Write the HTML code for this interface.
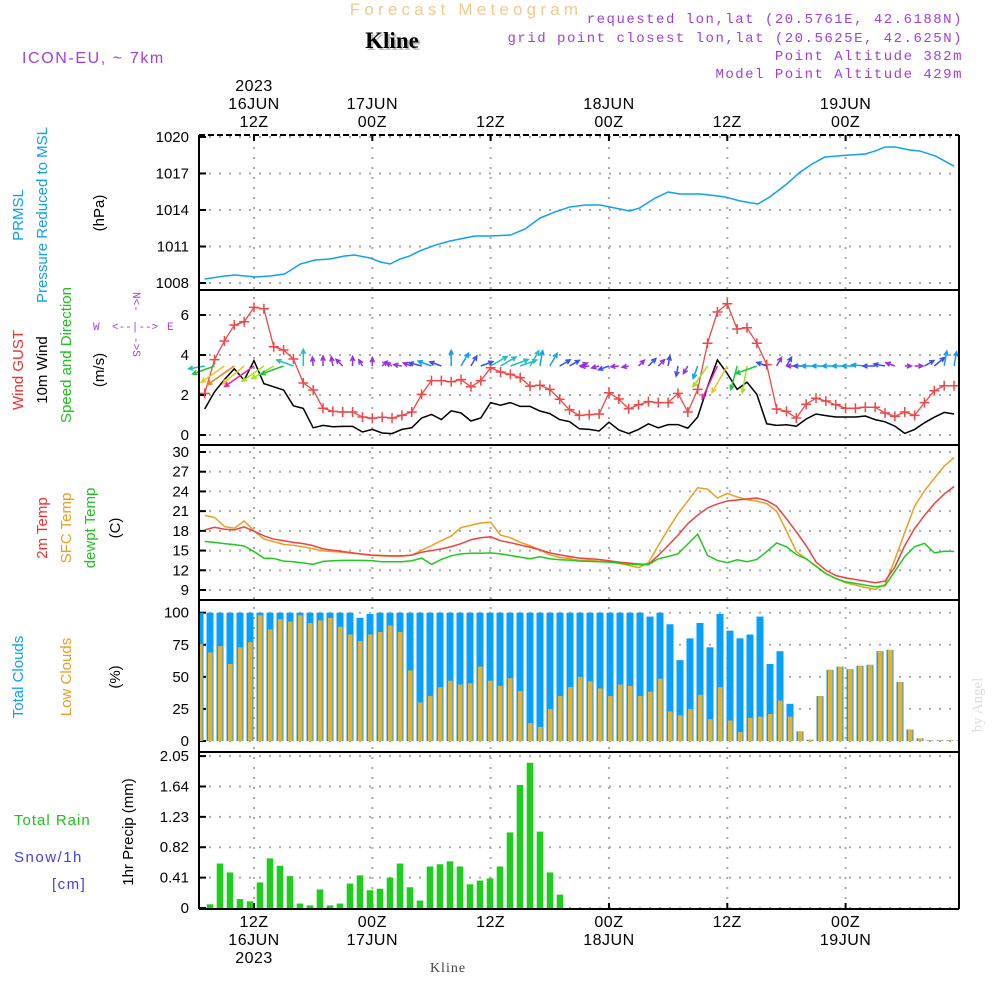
<!DOCTYPE html>
<html><head><meta charset="utf-8">
<style>
html,body{margin:0;padding:0;background:#fff;}
svg{display:block;font-family:"Liberation Sans",sans-serif;}
</style></head>
<body>
<svg id="chart" width="1000" height="1000" viewBox="0 0 1000 1000" xmlns="http://www.w3.org/2000/svg">
<g id="texts">
<text x="466" y="15" text-anchor="middle" font-size="17" letter-spacing="4.2" fill="#f2c98e">Forecast Meteogram</text>
<text x="392" y="48" text-anchor="middle" font-size="23" font-weight="bold" font-family="Liberation Serif,serif" fill="#bbb" transform="translate(2,2)">Kline</text>
<text x="392" y="48" text-anchor="middle" font-size="23" font-weight="bold" font-family="Liberation Serif,serif" fill="#000">Kline</text>
<text x="22" y="63" font-size="16" letter-spacing="1.6" fill="#a040e0">ICON-EU, ~ 7km</text>
<g font-family="Liberation Mono,monospace" font-size="14" fill="#a040e0" text-anchor="end" letter-spacing="1.5">
<text x="963" y="23">requested lon,lat (20.5761E, 42.6188N)</text>
<text x="963" y="42">grid point closest lon,lat (20.5625E, 42.625N)</text>
<text x="963" y="60">Point Altitude 382m</text>
<text x="963" y="78">Model Point Altitude 429m</text>
</g>
<text x="448" y="972" text-anchor="middle" font-size="14" font-family="Liberation Serif,serif" fill="#444" letter-spacing="1">Kline</text>
<text transform="translate(982,705) rotate(-90)" text-anchor="middle" font-size="15" font-family="Liberation Serif,serif" fill="#ddd">by Angel</text>
</g>
<g id="ylabels" font-size="15" text-anchor="middle">
<text transform="translate(23,215) rotate(-90)" fill="#10a0f0">PRMSL</text>
<text transform="translate(47,215) rotate(-90)" fill="#10a0f0">Pressure Reduced to MSL</text>
<text transform="translate(104,213) rotate(-90)" fill="#000">(hPa)</text>
<text transform="translate(23,370) rotate(-90)" fill="#f03030">Wind GUST</text>
<text transform="translate(47,370) rotate(-90)" fill="#000">10m Wind</text>
<text transform="translate(71,355) rotate(-90)" fill="#20c020">Speed and Direction</text>
<text transform="translate(104,370) rotate(-90)" fill="#000">(m/s)</text>
<g font-size="11" fill="#a040e0" font-family="Liberation Mono,monospace" text-anchor="start">
<text x="93" y="330">W</text><text x="112" y="330">&lt;--|--&gt;</text><text x="167" y="330">E</text>
<text transform="translate(133,292) rotate(90)">N&lt;-</text>
<text transform="translate(133,337) rotate(90)">-&gt;S</text>
</g>
<text transform="translate(47,528) rotate(-90)" fill="#f03030">2m Temp</text>
<text transform="translate(71,528) rotate(-90)" fill="#e8a020">SFC Temp</text>
<text transform="translate(95,528) rotate(-90)" fill="#20c020">dewpt Temp</text>
<text transform="translate(120,528) rotate(-90)" fill="#000">(C)</text>
<text transform="translate(23,677) rotate(-90)" fill="#10a0f0">Total Clouds</text>
<text transform="translate(71,677) rotate(-90)" fill="#e8a020">Low Clouds</text>
<text transform="translate(120,677) rotate(-90)" fill="#000">(%)</text>
<text x="14" y="825" text-anchor="start" fill="#20c020" letter-spacing="1">Total  Rain</text>
<text x="14" y="862" text-anchor="start" fill="#4040f0" letter-spacing="1.5">Snow/1h</text>
<text x="52" y="889" text-anchor="start" fill="#4040f0" letter-spacing="1.5">[cm]</text>
<text transform="translate(133,832) rotate(-90)" fill="#000">1hr Precip (mm)</text>
</g>
<g id="plot"></g>
</svg>
<script>
// ---------- DATA ----------
const lineHours = [7,8,9,10,11,12,13,14,15,16,17,18,19,20,21,22,23,24,25,26,27,28,29,30,31,32,33,34,35,36,37,38,39,40,41,42,43,44,45,46,47,48,49,50,51,52,53,54,55,56,57,58,59,60,61,62,63,64,65,66,67,68,69,70,71,72,73,74,75,76,77,78,79,80,81,82,83];
const pressHours = [7,9.06,10.07,12.1,13.6,15.1,16.7,18.2,19.7,21.2,22.2,23.8,24.8,25.8,26.8,27.8,28.8,30.4,31.9,33.4,34.4,35.9,38,39.5,41,42.5,44,45.6,47.1,48.6,50.1,51.1,52.7,54,55.2,57.2,58.2,59.8,61.3,63.1,64.3,65.9,67.4,68.6,69.9,72.4,74,75,76,77,78.5,79.5,81.1,83];
const pressure = [1008.33,1008.58,1008.66,1008.49,1008.58,1008.74,1009.56,1009.89,1009.97,1010.22,1010.30,1010.05,1009.73,1009.56,1009.97,1010.22,1010.63,1011.12,1011.45,1011.70,1011.86,1011.86,1011.94,1012.44,1013.34,1013.83,1014.24,1014.41,1014.41,1014.16,1013.92,1014.16,1014.98,1015.48,1015.31,1015.31,1015.23,1015.07,1014.74,1014.49,1015.07,1016.05,1017.12,1017.78,1018.35,1018.52,1018.60,1018.85,1019.18,1019.18,1018.93,1018.85,1018.44,1017.6];
const gust = [2.08,3.77,4.7,5.5,5.66,6.38,6.31,4.41,4.25,3.8,2.6,2.25,1.34,1.18,1.15,1.15,0.9,0.84,0.89,0.85,0.98,1.15,2.03,2.72,2.72,2.66,2.77,2.41,2.72,3.36,3.15,3.03,2.87,2.44,2.49,2.28,1.79,1.26,0.98,
1.02,1.05,2.11,1.8,1.31,1.51,1.67,1.62,1.62,2.08,1.15,2.28,4.59,6.15,6.56,5.3,5.36,4.59,3.52,1.3,1.18,0.85,1.54,1.84,1.7,1.51,1.34,1.34,1.39,1.39,1.1,0.93,1.15,0.98,1.62,2.21,2.46,2.46];
const wind10m = [1.3,2.16,2.77,3.31,2.74,3.72,2.57,2.41,2.25,1.46,1.33,0.36,0.48,0.41,0.43,0.43,0.15,0.28,0.1,0.07,0.28,0.36,0.85,1.03,0.77,1.21,1.1,0.7,0.85,1.62,1.49,1.62,1.43,1.43,1.2,1.07,0.77,0.67,0.31,
0.28,0.2,0.64,0.25,0.07,0.28,0.56,0.36,0.52,0.52,0.34,0.9,2.41,3.75,3.07,2.28,2.64,2.03,0.56,0.48,0.51,0.44,0.8,1.05,0.97,0.9,0.9,0.9,0.95,0.77,0.66,0.44,0.08,0.28,0.61,0.89,1.13,1.05];
const windDir = [190,200,215,215,220,215,215,210,200,160,90,95,90,100,135,90,120,90,45,150,170,160,165,160,160,90,60,60,20,30,30,20,20,60,80,60,30,30,20,
185,195,200,185,190,45,45,45,80,260,240,250,235,245,240,255,260,200,160,60,60,180,180,180,180,180,180,180,175,180,170,160,0,0,30,40,80,80];
const t2m = [18.15,18.55,18.25,18.15,18.6,17.95,17.25,16.75,16.5,16.25,16.05,15.75,15.25,15.05,14.85,14.65,14.45,14.3,14.25,14.2,14.2,14.3,14.75,15.0,15.25,15.6,16.05,16.65,16.95,17.1,16.5,16.2,15.85,15.5,15.1,14.65,14.35,14.1,13.85,
13.75,13.65,13.45,13.25,13.1,12.95,12.9,14.25,15.75,17.35,19.1,20.4,21.5,22.1,22.55,22.7,22.85,23.0,22.6,21.75,19.85,17.85,15.75,13.25,12.0,11.2,10.85,10.6,10.35,10.1,10.35,12.5,15.75,18.35,20.35,22.15,23.6,24.75];
const tsfc = [20.35,20.05,18.65,18.4,19.5,18.0,16.75,16.35,15.95,15.8,15.55,15.25,14.95,14.85,14.75,14.6,14.45,14.25,14.2,14.15,14.15,14.3,15.05,15.75,16.5,17.2,18.5,18.85,19.2,19.3,17.35,16.95,16.25,15.75,15.1,14.35,13.95,13.8,13.5,
13.5,13.4,13.3,13.05,12.75,12.4,13.15,15.75,18.25,20.6,22.55,24.55,24.35,23.0,23.7,23.15,22.75,22.5,22.15,21.0,18.0,14.85,13.75,12.65,11.5,10.75,10.1,9.75,9.4,9.1,9.85,13.65,17.75,21.75,24.1,26.0,27.85,29.15];
const tdew = [16.4,16.25,16.05,15.9,15.7,14.85,13.85,13.8,13.4,13.3,13.1,12.9,13.35,13.45,13.5,13.5,13.5,13.45,13.3,13.3,13.3,13.45,13.85,12.9,13.65,14.2,14.5,14.6,14.6,14.65,14.5,14.25,14.0,13.75,14.05,13.75,13.6,13.55,13.4,
13.35,13.3,13.25,13.1,12.95,12.85,12.85,13.75,14.1,14.5,16.0,17.5,14.25,13.5,13.15,13.6,13.3,13.65,14.85,16.15,15.6,14.4,13.75,12.6,11.5,10.75,10.25,10.0,9.75,9.5,9.65,11.85,14.1,15.6,16.1,14.65,14.9,14.85];
const totalClouds = [100,100,100,100,100,100,100,100,100,100,100,100,100,100,100,100,96,99,100,100,100,100,100,100,100,100,100,100,100,100,100,100,100,100,100,100,100,100,100,
100,100,100,100,100,100,97,100,91,63,80,92,73,99,86,80,83,97,60,70,29,7.5,1,35,55.5,58,56,58.6,59.4,70,71,46,9,2,0.5,0.5,0.5,0.5];
const lowClouds = [75.7,69,74,60,73,77,98,87,95,93,98,92,94,96,89,83,78,83,85,90,85,55,30,35,42,47,44,45,58,47,43,49,39,14,11,25,35,42,50,
46.5,41,35,44,43,35,38.5,48.6,23,20,25,36,17,42,16,7,18,19,21,31.5,19,7.5,1,35,55.5,58,56,58.6,59.4,70,71,46,9,2,0.5,0.5,0.5,0.5];
const precip = [0,0.05,0.6,0.48,0.12,0.09,0.345,0.67,0.57,0.43,0.06,0.035,0.25,0.035,0.06,0.33,0.44,0.24,0.26,0.41,0.6,0.28,0.1,0.56,0.59,0.63,0.56,0.32,0.37,0.4,0.56,1.02,1.66,1.96,1.03,0.48,0.18,
0,0,0,0,0,0,0,0,0,0,0,0,0,0,0,0,0,0,0,0,0,0,0,0,0,0,0,0,0,0,0,0,0,0,0,0,0,0,0,0];
const pressTicks = [1008,1011,1014,1017,1020];
const windTicks = [0,2,4,6];
const tempTicks = [9,12,15,18,21,24,27,30];
const cloudTicks = [0,25,50,75,100];
const precipTicks = ["0","0.41","0.82","1.23","1.64","2.05"];
const timeTicks = [12,24,36,48,60,72];
const topDayLabels = ["16JUN","17JUN","","18JUN","","19JUN"];
const topHourLabels = ["12Z","00Z","12Z","00Z","12Z","00Z"];

// ---------- SCALES ----------
const L=199,R=959;
const x = h => 254 + (h-12)*9.86;
const xb = i => 200 + i*10;            // hourly bar band scale
const yP = v => 283 - (v-1008)*12.17;
const yW = v => 435 - v*20;
const yT = v => 452 + (30-v)*6.571;
const yC = v => 741 - v*1.283;
const yR = v => 908 - v*74.1;
const panels = [[135,290],[290,445],[445,600],[600,752],[752,909]];

const NS="http://www.w3.org/2000/svg";
const plot=document.getElementById('plot');
function mk(tag,attrs,parent){const e=document.createElementNS(NS,tag);for(const k in attrs)e.setAttribute(k,attrs[k]);(parent||plot).appendChild(e);return e;}

const defs=mk('defs',{});
panels.forEach((p,i)=>{const c=mk('clipPath',{id:'cp'+i},defs);mk('rect',{x:L,y:p[0],width:R-L,height:p[1]-p[0]},c);});

const grid=mk('g',{stroke:'#aaa','stroke-width':2,'stroke-dasharray':'2,8',fill:'none'});


timeTicks.forEach(h=>{mk('line',{x1:x(h),x2:x(h),y1:137,y2:907},grid);});
function hgrid(ticks,fy){ticks.forEach(t=>{const yy=fy(+t);mk('line',{x1:L,x2:R,y1:yy,y2:yy},grid);});}
hgrid(pressTicks,yP);hgrid(windTicks,yW);hgrid(tempTicks,yT);hgrid(cloudTicks,yC);hgrid(precipTicks,yR);

function ylabels(ticks,fy,name){
  const g=mk('g',{'font-size':15,'text-anchor':'end',fill:'#000'});
  
  
  ticks.forEach(t=>{const yy=fy(+t);const tx=mk('text',{x:189,y:yy+5},g);tx.textContent=t;mk('line',{x1:L,x2:L+7,y1:yy,y2:yy,stroke:'#000','stroke-width':2},g);});
}
ylabels(pressTicks,yP,'pressure-axis');ylabels(windTicks,yW,'wind-axis');ylabels(tempTicks,yT,'temp-axis');ylabels(cloudTicks,yC,'cloud-axis');ylabels(precipTicks,yR,'precip-axis');

const tl=mk('g',{'font-size':16,'text-anchor':'middle',fill:'#000','letter-spacing':'0.5'});


timeTicks.forEach((h,i)=>{
  const xx=x(h);
  let t=mk('text',{x:xx,y:127},tl);t.textContent=topHourLabels[i];
  if(topDayLabels[i]){t=mk('text',{x:xx,y:109},tl);t.textContent=topDayLabels[i];t=mk('text',{x:xx,y:945},tl);t.textContent=topDayLabels[i];}
  t=mk('text',{x:xx,y:927},tl);t.textContent=topHourLabels[i];
  mk('line',{x1:xx,x2:xx,y1:135,y2:141,stroke:'#000','stroke-width':2},tl);
  mk('line',{x1:xx,x2:xx,y1:903,y2:910,stroke:'#000','stroke-width':2},tl);
});
let yr=mk('text',{x:x(12),y:91},tl);yr.textContent='2023';
yr=mk('text',{x:x(12),y:963},tl);yr.textContent='2023';

const pl=mk('polyline',{points:pressHours.map((h,i)=>x(h)+','+yP(pressure[i])).join(' '),fill:'none',stroke:'#10a0f0','stroke-width':1.5,'clip-path':'url(#cp0)'});



const wl=mk('polyline',{points:lineHours.map((h,i)=>x(h)+','+yW(wind10m[i])).join(' '),fill:'none',stroke:'#000','stroke-width':1.5,'clip-path':'url(#cp1)'});


const gl=mk('polyline',{points:lineHours.map((h,i)=>x(h)+','+yW(gust[i])).join(' '),fill:'none',stroke:'#f04848','stroke-width':1.3,'clip-path':'url(#cp1)'});


const gm=mk('g',{stroke:'#f04848','stroke-width':1.5});


lineHours.forEach((h,i)=>{const xx=x(h),yy=yW(gust[i]);mk('path',{d:`M${xx-5},${yy}H${xx+5}M${xx},${yy-5}V${yy+5}`},gm);});
function wcol(s){return s<0.5?'#9a30e0':s<0.9?'#3a50f0':s<1.3?'#10a0f0':s<1.8?'#20c0c0':s<2.3?'#20c040':s<2.7?'#a0e020':s<3.2?'#e8c820':s<3.5?'#f08020':'#f020a0';}
const wa=mk('g',{'stroke-width':1.5,fill:'none'});


lineHours.forEach((h,i)=>{
  const s=wind10m[i],a=windDir[i]*Math.PI/180,len=6+8*s;
  const x0=x(h),y0=yW(3.45),x1=x0+len*Math.cos(a),y1=y0-len*Math.sin(a);
  const hl=5,b1=a+Math.PI-0.45,b2=a+Math.PI+0.45;
  mk('path',{d:`M${x0},${y0}L${x1},${y1}M${x1+hl*Math.cos(b1)},${y1-hl*Math.sin(b1)}L${x1},${y1}L${x1+hl*Math.cos(b2)},${y1-hl*Math.sin(b2)}`,stroke:wcol(s)},wa);
});

[[tsfc,'#e8a020','sfc-temp-line'],[t2m,'#f04040','t2m-line'],[tdew,'#20c820','dewpoint-line']].forEach(([arr,c,n])=>{
  const p=mk('polyline',{points:lineHours.map((h,i)=>x(h)+','+yT(arr[i])).join(' '),fill:'none',stroke:c,'stroke-width':1.5,'clip-path':'url(#cp2)'});
  
  
});

const cg=mk('g',{'clip-path':'url(#cp3)'});


totalClouds.forEach((v,i)=>{
  const b=mk('rect',{x:xb(i)-3.5,y:yC(v),width:7,height:yC(0)-yC(v),fill:'#08a0f8'},cg);
  
  
  const lv=lowClouds[i];
  const o=mk('rect',{x:xb(i)-2,y:yC(lv),width:4.5,height:yC(0)-yC(lv),fill:'#e8b030'},cg);
  
  
});

const rg=mk('g',{'clip-path':'url(#cp4)'});


precip.forEach((v,i)=>{
  if(v<=0)return;
  const b=mk('rect',{x:xb(i)-3.3,y:yR(v),width:6.6,height:yR(0)-yR(v),fill:'#20cc20'},rg);
  
  
});

const fr=mk('g',{stroke:'#000','stroke-width':2,fill:'none'});


mk('line',{x1:L,x2:R,y1:135,y2:135,'stroke-dasharray':'6,3'},fr);
mk('line',{x1:L,x2:L,y1:135,y2:909},fr);
mk('line',{x1:R,x2:R,y1:135,y2:909},fr);
[290,445,600,752,909].forEach(yy=>mk('line',{x1:L,x2:R,y1:yy,y2:yy},fr));
</script>
</body></html>
